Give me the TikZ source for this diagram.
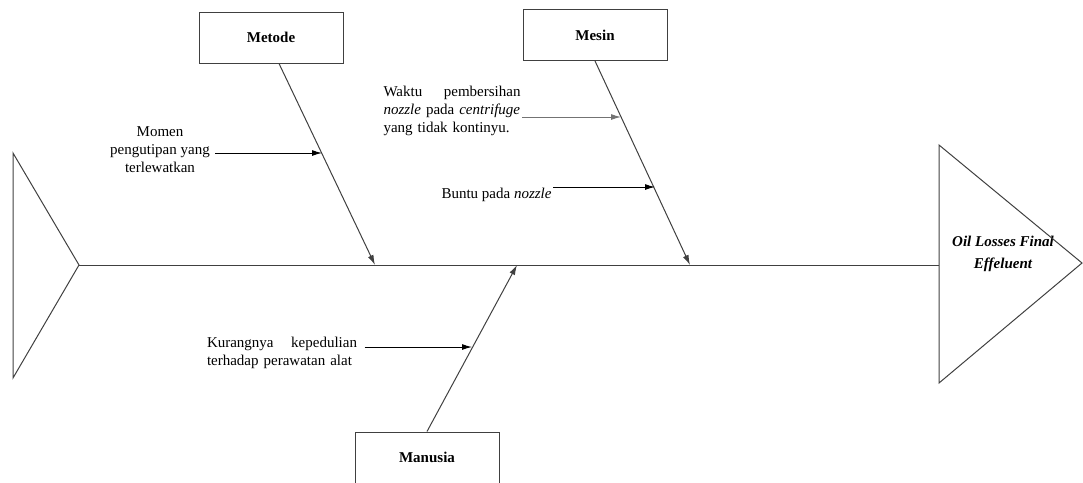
\documentclass[tikz,border=0pt]{standalone}
\usepackage{fontspec}
\setmainfont{Liberation Serif}
\usetikzlibrary{positioning,arrows.meta,calc}
\tikzset{
	fishbone/.style={x=1pt,y=-1pt,line width=1pt,draw=black!75,
		>={Latex[length=10pt,width=6pt]}},
	category/.style={rectangle,draw,minimum width=144pt,minimum height=51pt,
		inner sep=0pt,font=\fontsize{15}{17}\selectfont\bfseries},
	cause/.style={inner sep=1pt,font=\fontsize{15}{18}\selectfont},
	effect/.style={inner sep=0pt,align=center,
		font=\fontsize{15}{22}\selectfont\bfseries\itshape},
	bone/.style={->,line width=1pt},
	subbone/.style={->,line width=1pt,black}
}

\begin{document}
\begin{tikzpicture}[fishbone]
	\useasboundingbox (0,0) rectangle (1083,482);
	
	\node[category] (metode) at (271,37.5) {Metode};
	\node[category] (mesin) at (595,35) {Mesin};
	\node[category] (manusia) at (427,457.5) {Manusia};
	\node[effect] (oil) at (1003,254) {Oil Losses Final\\Effeluent};
	
	\coordinate (tail) at (79,265);
	\coordinate (head) at (939,265);
	\draw (13,153) -- (tail) -- (13,378) -- cycle;
	\draw (939,145) -- (1082,263) -- (939,383) -- cycle;
	\draw (tail) -- (head);
	
	\coordinate (mt) at (375,265);
	\coordinate (ms) at (690,265);
	\coordinate (mn) at (517,265);
	\draw[bone] ([xshift=8pt]metode.south) -- (mt);
	\draw[bone] (mesin.south) -- (ms);
	\draw[bone] (manusia.north) -- (mn);
	
	\node[cause,align=center] (momen) at (160,150) {Momen\\pengutipan yang\\terlewatkan};
	\node[cause,text width=137pt,align=left] (waktu) at (452,111)
		{Waktu\hfill pembersihan\\\textit{nozzle} pada \textit{centrifuge}\\yang tidak kontinyu.};
	\node[cause,anchor=east] (buntu) at (553,195) {Buntu pada \textit{nozzle}};
	\node[cause,text width=150pt,align=left] (kurang) at (282,353)
		{Kurangnya\hfill kepedulian\\terhadap perawatan alat};
	
	\coordinate (c1) at (322,153);
	\coordinate (c2) at (621,117);
	\coordinate (c3) at (655,187);
	\coordinate (c4) at (472,347);
	\draw[subbone] (momen.east |- c1) ++(4,0) -- (c1);
	\draw[subbone,black!55] (waktu.east |- c2) -- (c2);
	\draw[subbone] (buntu.east |- c3) -- (c3);
	\draw[subbone] (kurang.east |- c4) ++(6,0) -- (c4);
\end{tikzpicture}
\end{document}
